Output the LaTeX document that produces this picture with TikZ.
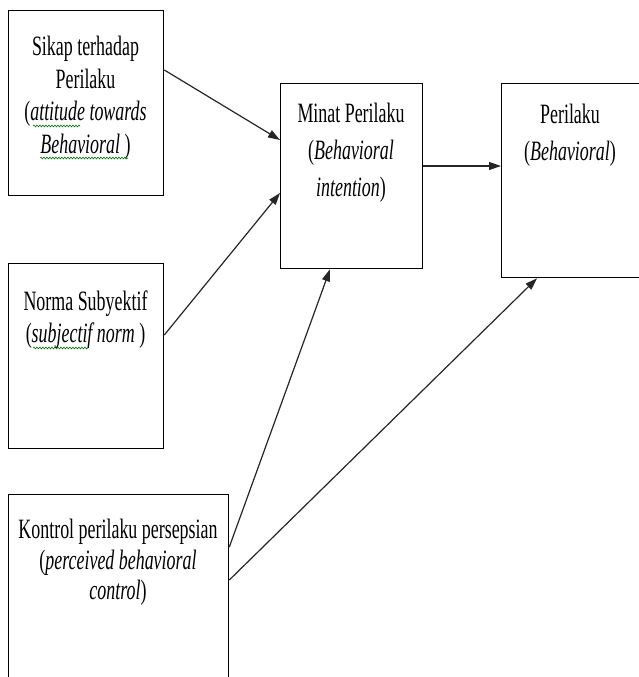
\documentclass[tikz,border=0pt]{standalone}
\usepackage{fontspec}
\setmainfont{Liberation Serif}[FakeStretch=0.64]
\usetikzlibrary{arrows.meta,decorations.pathmorphing}

\tikzset{
  box/.style={draw=black, line width=1.3pt, inner sep=0pt, anchor=north west},
  label/.style={anchor=north, inner sep=0pt, align=center, text=black},
  link/.style={draw=black!85, line width=1.2pt,
    -{Triangle[length=12pt,width=8pt]}},
  squiggle/.style={draw=green!45!black, line width=0.6pt,
    decorate, decoration={snake, amplitude=0.9pt, segment length=3pt}}
}

\begin{document}
\begin{tikzpicture}[x=1pt,y=-1pt]
  \clip (0,0) rectangle (639,677);
  \fill[white] (0,0) rectangle (639,677);

  % boxes
  \node[box, minimum width=155pt, minimum height=185pt] (sikap)   at (8,10)   {};
  \node[box, minimum width=155pt, minimum height=185pt] (norma)   at (8,263)  {};
  \node[box, minimum width=220pt, minimum height=200pt] (kontrol) at (8,494)  {};
  \node[box, minimum width=142pt, minimum height=185pt] (minat)   at (280,83) {};
  \node[box, minimum width=160pt, minimum height=194pt] (perilaku) at (501,83) {};

  % box texts
  \node[label, font=\fontsize{28}{32.5}\selectfont] (tsikap) at (85.5,36)
    {Sikap terhadap\\Perilaku\\(\textit{attitude towards}\\\textit{Behavioral} )};
  \node[label, font=\fontsize{28}{32}\selectfont] (tnorma) at (85.5,291)
    {Norma Subyektif\\(\textit{subjectif norm} )};
  \node[label, font=\fontsize{28}{30.5}\selectfont] (tkontrol) at (118,519)
    {Kontrol perilaku persepsian\\(\textit{perceived behavioral}\\\textit{control})};
  \node[label, font=\fontsize{28}{37}\selectfont] (tminat) at (351,103)
    {Minat Perilaku\\(\textit{Behavioral}\\\textit{intention})};
  \node[label, font=\fontsize{28}{37}\selectfont] (tperilaku) at (570,104)
    {Perilaku\\(\textit{Behavioral})};

  % spelling marks under words
  \draw[squiggle] (33,126) -- (80,126);
  \draw[squiggle] (40,158) -- (128,158);
  \draw[squiggle] (33,348) -- (88,348);

  % connectors
  \draw[link] ([yshift=-60pt]sikap.north east) -- ([yshift=-57pt]minat.north west);
  \draw[link] ([yshift=-72pt]norma.north east) -- ([yshift=-110pt]minat.north west);
  \draw[link] ([yshift=-53pt]kontrol.north east) -- ([xshift=50pt]minat.south west);
  \draw[link] ([yshift=-86pt]kontrol.north east) -- ([xshift=36pt]perilaku.south west);
  \draw[link] ([yshift=-83pt]minat.north east) -- ([yshift=-83pt]perilaku.north west);
\end{tikzpicture}
\end{document}
